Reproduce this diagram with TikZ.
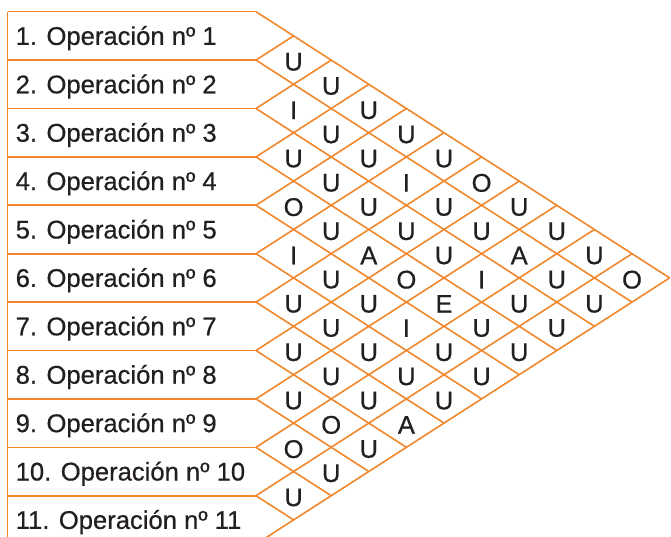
\documentclass[tikz,border=0pt]{standalone}
\usepackage{fontspec}
\setmainfont{Liberation Sans}[FakeBold=0.6]
\definecolor{naranja}{RGB}{240,135,45}
\definecolor{tinta}{RGB}{35,31,32}
\tikzset{
  linea/.style={draw=naranja, line width=1.6pt},
  operacion/.style={anchor=base west, text=tinta, inner sep=0pt,
    font=\fontsize{25.6}{30}\selectfont},
  relacion/.style={text=tinta, inner sep=0pt,
    font=\fontsize{25.5}{30}\selectfont},
}
\begin{document}
\begin{tikzpicture}[x=1pt,y=-1pt]
  \useasboundingbox (0,0) rectangle (671,537);
	% extremos de las filas
	\foreach \i in {0,...,11}{
		\coordinate (izq\i) at (7.5,11.7+48.4*\i);
		\coordinate (p\i) at (256,11.7+48.4*\i);
	}
	\coordinate (izqfin) at (7.5,545);
	\draw[linea] (izq0) -- (izqfin);
	\foreach \i in {0,...,10}
		\draw[linea] (izq\i) -- (p\i);
	% red de rombos
	\foreach \i in {0,...,11}{
		\pgfmathtruncatemacro{\n}{11-\i}
		\draw[linea] (p\i) -- ++(37.6*\n,24.2*\n);
		\draw[linea] (p\i) -- ++(37.6*\i,-24.2*\i);
	}
	% operaciones
	\foreach \i in {1,...,11}
		\node[operacion] (op\i) at (15.5,11.7+48.4*\i-24.2+9) {\i. Operación nº \i};
	% relaciones
	\foreach \i/\fila in {1/{U,U,U,U,U,O,U,U,U,O},
		2/{I,U,U,I,U,U,A,U,U},
		3/{U,U,U,U,U,I,U,U},
		4/{O,U,A,O,E,U,U},
		5/{I,U,U,I,U,U},
		6/{U,U,U,U,U},
		7/{U,U,U,A},
		8/{U,O,U},
		9/{O,U},
		10/{U}}{
		\foreach \c [count=\k] in \fila{
			\pgfmathtruncatemacro{\j}{\i+\k}
			\node[relacion] (r\i-\j) at ({256+37.6*\k},{13.5+24.2*(2*\i+\k-1)}) {\c};
		}
	}
\end{tikzpicture}
\end{document}
